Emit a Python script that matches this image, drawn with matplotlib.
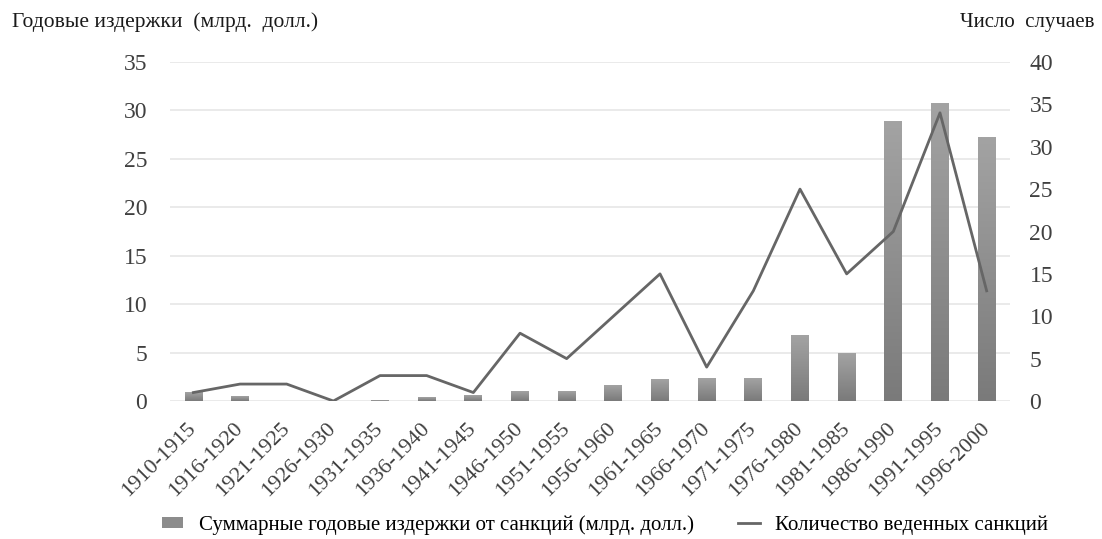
import matplotlib
matplotlib.use("Agg")
import matplotlib.pyplot as plt
import numpy as np
from matplotlib.patches import Patch
from matplotlib.lines import Line2D
from matplotlib.colors import LinearSegmentedColormap

plt.rcParams['font.family'] = ['Liberation Serif', 'DejaVu Serif']

periods = ["1910-1915", "1916-1920", "1921-1925", "1926-1930", "1931-1935", "1936-1940",
           "1941-1945", "1946-1950", "1951-1955", "1956-1960", "1961-1965", "1966-1970",
           "1971-1975", "1976-1980", "1981-1985", "1986-1990", "1991-1995", "1996-2000"]
costs = [0.86, 0.45, 0.0, 0.0, 0.1, 0.35, 0.6, 1.03, 1.03, 1.65, 2.25, 2.35, 2.35,
         6.75, 4.95, 28.9, 30.7, 27.2]
cases = [1, 2, 2, 0, 3, 3, 1, 8, 5, 10, 15, 4, 13, 25, 15, 20, 34, 13]

fig = plt.figure(figsize=(11.02, 5.39), dpi=100)
ax = fig.add_axes([0.1543, 0.256, 0.7622, 0.629])
x = np.arange(len(periods))

bars = ax.bar(x, costs, width=0.38, color='none', edgecolor='none', zorder=2)
cmap = LinearSegmentedColormap.from_list('g', ['#7a7a7a', '#a3a3a3'])
grad = np.linspace(0, 1, 256).reshape(-1, 1)
for b in bars:
    h = b.get_height()
    if h <= 0:
        continue
    x0 = b.get_x()
    w = b.get_width()
    ax.imshow(grad, extent=[x0, x0 + w, 0, h], origin='lower', aspect='auto',
              cmap=cmap, zorder=2)

ax.set_xlim(-0.5, len(periods) - 0.5)
ax.set_ylim(0, 35)
ax.set_yticks(range(0, 36, 5))
ax.yaxis.grid(True, color='#e6e6e6', linewidth=1.2, zorder=0)
ax.set_axisbelow(True)
for s in ax.spines.values():
    s.set_visible(False)
ax.tick_params(axis='both', length=0, labelcolor='#404040')
ax.tick_params(axis='y', pad=16.5, labelsize=17)
ax.set_xticks(x)
ax.set_xticklabels(periods, rotation=45, ha='right', va='center',
                   rotation_mode='anchor', fontsize=16)
ax.tick_params(axis='x', pad=18)

ax2 = ax.twinx()
ax2.plot(x, cases, color='#666666', linewidth=2.0, zorder=3)
ax2.set_ylim(0, 40)
ax2.set_yticks(range(0, 41, 5))
for s in ax2.spines.values():
    s.set_visible(False)
ax2.tick_params(axis='y', length=0, labelsize=17, labelcolor='#404040', pad=14)

fig.text(12 / 1102, 1 - 22 / 539, "Годовые издержки  (млрд.  долл.)", fontsize=15.5,
         va='center', ha='left', color='#1a1a1a')
fig.text(1095 / 1102, 1 - 22 / 539, "Число  случаев", fontsize=15,
         va='center', ha='right', color='#1a1a1a')

handles = [Patch(facecolor='#8c8c8c', edgecolor='none'),
           Line2D([0], [0], color='#666666', linewidth=2.0)]
labels = ["Суммарные годовые издержки от санкций (млрд. долл.)",
          "Количество веденных санкций"]
fig.legend(handles, labels, loc='center', bbox_to_anchor=(605 / 1102, 1 - 525 / 539),
           ncol=2, frameon=False, fontsize=15, handlelength=1.05, handleheight=0.5,
           columnspacing=2.1, handletextpad=0.75)

fig.savefig("out.png", dpi=100)
